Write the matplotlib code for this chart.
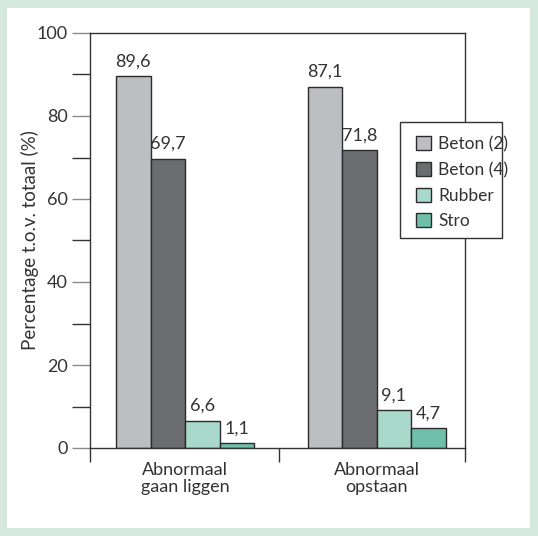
import numpy as np
import matplotlib.pyplot as plt
from matplotlib.patches import Rectangle
from matplotlib.ticker import MultipleLocator

groups = ['Abnormaal\ngaan liggen', 'Abnormaal\nopstaan']
series = ['Beton (2)', 'Beton (4)', 'Rubber', 'Stro']
beton2 = [89.6, 87.1]
beton4 = [69.7, 71.8]
rubber = [6.6, 9.1]
stro = [1.1, 4.7]
colours = ['#bdbec2', '#6b6c70', '#a9d9cb', '#6fbfab']

plt.rcParams['font.family'] = ['Lato', 'DejaVu Sans']

W, H = 538, 536
fig = plt.figure(figsize=(W / 100, H / 100), dpi=100, facecolor='#d4e8df')
fig.patches.append(Rectangle((7 / W, 1 - 528 / H), 523 / W, 520 / H,
                             transform=fig.transFigure, facecolor='white',
                             edgecolor='none', zorder=-5))

# axes box in pixels: left 90, right 465, top 33, bottom 448
ax = fig.add_axes([90 / W, 1 - 448 / H, 375 / W, 415 / H])
ax.set_facecolor('white')

x = np.array([0.507, 1.528])
bw = 0.184
vals = [beton2, beton4, rubber, stro]
for i, (name, v, col) in enumerate(zip(series, vals, colours)):
    pos = x + (i - 1.5) * bw
    ax.bar(pos, v, bw, color=col, edgecolor='#2b2b2b', linewidth=1, label=name, zorder=2)
    for px, val in zip(pos, v):
        ax.text(px, val + 1.6, ('%.1f' % val).replace('.', ','), ha='center', va='bottom',
                fontsize=13, color='#333333')

ax.set_xlim(0, 2)
ax.set_ylim(0, 100)
ax.yaxis.set_major_locator(MultipleLocator(20))
ax.yaxis.set_minor_locator(MultipleLocator(10))
ax.tick_params(axis='y', which='major', direction='out', length=13, width=1,
               color='#8a8a8a', labelsize=13, labelcolor='#333333', pad=3)
ax.tick_params(axis='y', which='minor', direction='out', length=13, width=1, color='#333333')
ax.set_xticks([0, 1.007, 2])
ax.set_xticklabels([])
ax.tick_params(axis='x', direction='out', length=10, width=1, color='#333333')
for s in ax.spines.values():
    s.set_color('#333333')
    s.set_linewidth(1)

for gx, g in zip(x, groups):
    ax.text(gx, -3.4, g, ha='center', va='top', fontsize=13, color='#333333',
            linespacing=1.1)

ax.set_ylabel('Percentage t.o.v. totaal (%)', fontsize=13.5, color='#333333')
ax.yaxis.set_label_coords(-0.135, 0.5)

# legend frame drawn separately (text sits close to the right edge)
fig.patches.append(Rectangle((400 / W, 1 - 238 / H), 102 / W, 116 / H,
                             transform=fig.transFigure, facecolor='white',
                             edgecolor='#333333', linewidth=1, zorder=3))
leg = fig.legend(loc='upper left', bbox_to_anchor=(416 / W, 1 - 136 / H), frameon=False,
                 fontsize=12.5, handlelength=0.85, handleheight=0.85, handletextpad=0.42,
                 borderpad=0, labelspacing=0.56, borderaxespad=0)
leg.set_zorder(4)
for t in leg.get_texts():
    t.set_color('#333333')

fig.savefig('out.png', dpi=100, facecolor=fig.get_facecolor())
